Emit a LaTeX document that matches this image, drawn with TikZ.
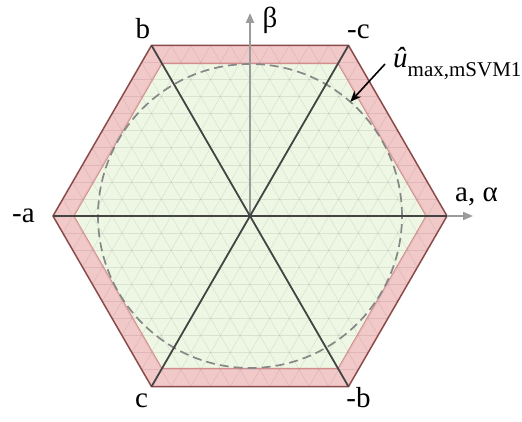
\documentclass[tikz,border=0pt]{standalone}
\usepackage{fontspec}
\setmainfont{Liberation Serif}
\usetikzlibrary{arrows.meta,positioning}
\definecolor{hexPink}{RGB}{242,201,201}
\definecolor{hexGreen}{RGB}{237,247,228}
\definecolor{edgeDark}{RGB}{140,75,75}
\definecolor{edgeLight}{RGB}{214,140,140}
\definecolor{phaseGray}{RGB}{68,68,68}
\definecolor{axisGray}{RGB}{155,155,155}
\definecolor{circGray}{RGB}{135,135,135}
\tikzset{
  hexout/.style ={fill=hexPink},
  hexin/.style  ={fill=hexGreen},
  gridln/.style ={draw=black, opacity=0.08, line width=0.6pt},
  phase/.style  ={draw=phaseGray, line width=1.8pt},
  axis/.style   ={draw=axisGray, line width=2pt, -{Triangle[length=10pt,width=8pt]}},
  limit/.style  ={draw=circGray, line width=1.7pt, dash pattern=on 9pt off 5pt},
  lbl/.style    ={font=\fontsize{29}{34}\selectfont, inner sep=0pt},
  ptr/.style    ={-{Stealth[length=11pt,width=9pt]}, line width=1.6pt},
}
\begin{document}
\begin{tikzpicture}[x=1pt, y=1pt]
\useasboundingbox (-250,-206) rectangle (272,216);
% hexagon corners
\foreach \n/\ang in {a/0, mc/60, b/120, ma/180, c/240, mb/300}{
  \coordinate (\n) at (\ang:197);
  \coordinate (i\n) at (\ang:176);
}
\coordinate (o) at (0,0);
\coordinate (circ) at (48.7:152);
% regions
\fill[hexout] (a) -- (mc) -- (b) -- (ma) -- (c) -- (mb) -- cycle;
\fill[hexin] (ia) -- (imc) -- (ib) -- (ima) -- (ic) -- (imb) -- cycle;
% triangular grid
\begin{scope}
  \clip (a) -- (mc) -- (b) -- (ma) -- (c) -- (mb) -- cycle;
  \foreach \k in {-10,...,10}
    \draw[gridln] (-210,\k*17.06) -- (210,\k*17.06);
  \foreach \i in {-20,...,20}{
    \draw[gridln] ([shift={(\i*19.7,0)}]240:240) -- ([shift={(\i*19.7,0)}]60:240);
    \draw[gridln] ([shift={(\i*19.7,0)}]300:240) -- ([shift={(\i*19.7,0)}]120:240);
  }
\end{scope}
\draw[edgeLight, line width=0.9pt] (ia) -- (imc) -- (ib) -- (ima) -- (ic) -- (imb) -- cycle;
\draw[edgeDark, line width=1.5pt] (a) -- (mc) -- (b) -- (ma) -- (c) -- (mb) -- cycle;
\draw[limit] (o) circle[radius=152];
% axes
\draw[axis] (o) -- (0,203);
\draw[axis] (o) -- (223,0);
% phase directions
\draw[phase] (ma) -- (a);
\draw[phase] (b) -- (mb);
\draw[phase] (mc) -- (c);
% labels
\node[lbl, anchor=base] (lb)  at (-107,177) {b};
\node[lbl, anchor=base] (lmc) at (108.5,177) {-c};
\node[lbl, anchor=base] (lbeta) at (20,188) {β};
\node[lbl, anchor=base] (lma) at (-226.5,-7) {-a};
\node[lbl, anchor=base] (la)  at (226.5,14) {a, α};
\node[lbl, anchor=base] (lc)  at (-108.5,-192) {c};
\node[lbl, anchor=base] (lmb) at (108.5,-192) {-b};
\node[lbl, anchor=base west] (umax) at (143,148)
  {\itshape û\upshape\raisebox{-9pt}{\fontsize{21}{24}\selectfont max,mSVM1}};
\coordinate[left=8pt of umax.west] (tail);
\draw[ptr] (tail) -- (circ);
\end{tikzpicture}
\end{document}
